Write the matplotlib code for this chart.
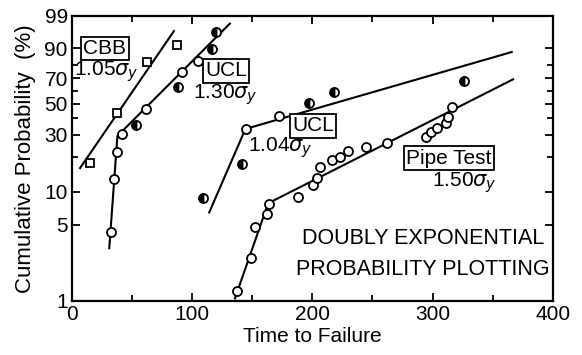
import numpy as np
import matplotlib
matplotlib.use("Agg")
import matplotlib.pyplot as plt
from matplotlib import font_manager

# --- data (time, cumulative probability %) ---
cbb_t = [15, 37.4, 62, 87]
cbb_p = [17.7, 43.5, 82, 91.5]
cbb_fit_t = [6.7, 84.8]
cbb_fit_p = [16.0, 96.4]

ucl130_t = [32.2, 35.2, 37.7, 41.8, 53.5, 61.5, 88.6, 91.9, 105.1, 116.2, 119.8]
ucl130_p = [4.3, 12.8, 21.7, 30.7, 35.8, 46.0, 62.9, 75.0, 82.6, 89.4, 96.1]
ucl130_fit_t = [31.0, 37.8, 131.4]
ucl130_fit_p = [3.06, 29.4, 98.0]

ucl104_t = [109.2, 141.1, 144.5, 172.4, 197.3, 217.9, 326]
ucl104_p = [8.7, 17.2, 33.1, 41.5, 51.0, 59.5, 67.9]
ucl104_fit_t = [114.2, 144.3, 365.9]
ucl104_fit_p = [6.5, 33.3, 88.0]

pipe_t = [137.0, 148.9, 152.2, 162.4, 163.6, 188.2, 200.4, 203.5, 206.7, 216.2,
          222.9, 229.5, 244.9, 262.4, 294.4, 299.1, 303.8, 310.8, 312.9, 315.8]
pipe_p = [1.24, 2.50, 4.82, 6.25, 7.69, 8.99, 11.4, 13.2, 16.4, 18.6,
          20.0, 22.1, 24.0, 26.0, 28.7, 31.6, 33.7, 36.7, 41.0, 48.0]
pipe_fit_t = [135.6, 163.2, 367.0]
pipe_fit_p = [1.05, 7.85, 69.2]

y_major = [1, 5, 10, 30, 50, 70, 90, 99]
y_minor = [20, 40, 60, 80]
x_ticks = [0, 100, 200, 300, 400]

names = {f.name for f in font_manager.fontManager.ttflist}
font = "Liberation Sans" if "Liberation Sans" in names else "DejaVu Sans"
plt.rcParams["font.family"] = [font, "DejaVu Sans"]
plt.rcParams["mathtext.fontset"] = "dejavusans"


def fwd(p):
    p = np.clip(np.asarray(p, dtype=float), 1e-6, 100 - 1e-6)
    return np.log(-np.log(1 - p / 100.0))


def inv(v):
    return 100.0 * (1 - np.exp(-np.exp(v)))


fig = plt.figure(figsize=(5.82, 3.55), dpi=100)
ax = fig.add_axes([0.1237, 0.153, 0.826, 0.802])
ax.set_yscale("function", functions=(fwd, inv))

lw = 1.5
ms = 6.5
# fitted lines
for t, p in [(cbb_fit_t, cbb_fit_p), (ucl130_fit_t, ucl130_fit_p),
             (ucl104_fit_t, ucl104_fit_p), (pipe_fit_t, pipe_fit_p)]:
    ax.plot(t, p, color="black", lw=lw, zorder=2)

# points
ax.plot(cbb_t, cbb_p, "s", ms=5.5, mfc="white", mec="black", mew=1.3, zorder=3)

half130 = [4, 6, 9, 10]
for i, (t, p) in enumerate(zip(ucl130_t, ucl130_p)):
    if i in half130:
        ax.plot(t, p, "o", ms=ms, fillstyle="left", mfc="black", mfcalt="white",
                mec="black", mew=1.3, zorder=3)
    else:
        ax.plot(t, p, "o", ms=ms, mfc="white", mec="black", mew=1.3, zorder=3)

half104 = [0, 1, 4, 5, 6]
for i, (t, p) in enumerate(zip(ucl104_t, ucl104_p)):
    if i in half104:
        ax.plot(t, p, "o", ms=ms, fillstyle="left", mfc="black", mfcalt="white",
                mec="black", mew=1.3, zorder=3)
    else:
        ax.plot(t, p, "o", ms=ms, mfc="white", mec="black", mew=1.3, zorder=3)

ax.plot(pipe_t, pipe_p, "o", ms=ms, mfc="white", mec="black", mew=1.3, zorder=3)

ax.set_xlim(0, 400)
ax.set_ylim(1, 99)
ax.set_xticks(x_ticks)
ax.set_xticks([50, 150, 250, 350], minor=True)
ax.set_yticks(y_major)
ax.set_yticklabels([str(v) for v in y_major])
ax.set_yticks(y_minor, minor=True)
ax.yaxis.set_minor_formatter(matplotlib.ticker.NullFormatter())
ax.tick_params(which="both", direction="in", top=True, right=True,
               width=1.3, labelsize=15, pad=3)
ax.tick_params(which="major", length=6)
ax.tick_params(which="minor", length=4)
for s in ax.spines.values():
    s.set_linewidth(1.6)

ax.set_xlabel("Time to Failure", fontsize=15, labelpad=2)
ax.set_ylabel("Cumulative Probability  (%)", fontsize=16, labelpad=6)

box = dict(boxstyle="square,pad=0.1", fc="white", ec="black", lw=1.3)
tr = ax.transAxes
fs = 15
ax.text(0.0686, 0.886, "CBB", transform=tr, fontsize=fs, ha="center", va="center", bbox=box)
ax.text(0.004, 0.803, r"1.05$\sigma_y$", transform=tr, fontsize=fs, ha="left", va="center")
ax.text(0.321, 0.807, "UCL", transform=tr, fontsize=fs, ha="center", va="center", bbox=box)
ax.text(0.2516, 0.7225, r"1.30$\sigma_y$", transform=tr, fontsize=fs, ha="left", va="center")
ax.text(0.502, 0.6136, "UCL", transform=tr, fontsize=fs, ha="center", va="center", bbox=box)
ax.text(0.366, 0.536, r"1.04$\sigma_y$", transform=tr, fontsize=fs, ha="left", va="center")
ax.text(0.784, 0.501, "Pipe Test", transform=tr, fontsize=fs, ha="center", va="center", bbox=box)
ax.text(0.748, 0.413, r"1.50$\sigma_y$", transform=tr, fontsize=fs, ha="left", va="center")
ax.text(0.730, 0.220, "DOUBLY EXPONENTIAL", transform=tr, fontsize=15.5, ha="center", va="center")
ax.text(0.730, 0.111, "PROBABILITY PLOTTING", transform=tr, fontsize=15.5, ha="center", va="center")

fig.savefig("out.png", dpi=100)
